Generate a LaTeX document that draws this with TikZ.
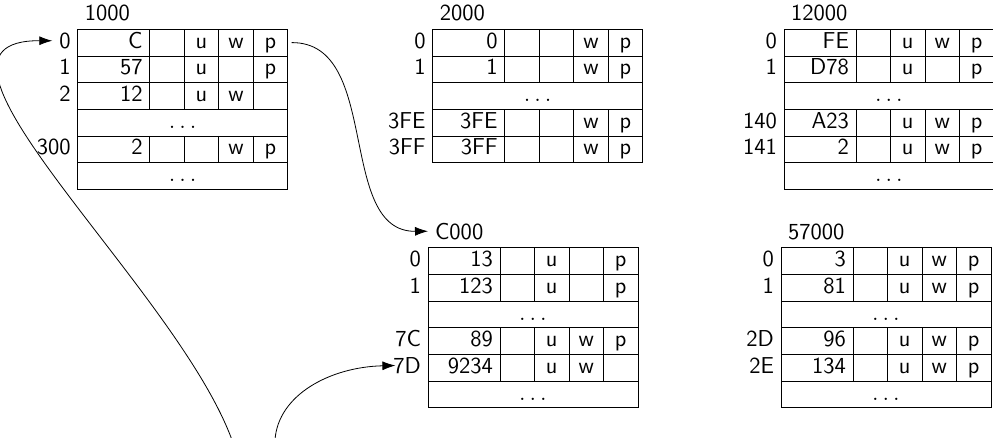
\documentclass[tikz,border=0pt]{standalone}
\usepackage{tikz}
\usetikzlibrary{arrows.meta}
\newcommand{\tabfont}{\fontsize{11.5}{13}\selectfont\sffamily}
\tikzset{
  rowbox/.style={draw, anchor=north west, minimum width=105pt, minimum height=13.333pt,
                 inner sep=0pt, outer sep=0pt},
  valtxt/.style={anchor=base east, font=\tabfont},
  flagtxt/.style={anchor=base, font=\tabfont},
  rowlbl/.style={anchor=base east, font=\tabfont},
  pgtitle/.style={anchor=base west, font=\tabfont},
  ptr/.style={-{Latex[length=6.5pt,width=4.5pt]}},
}
% #1 table name, (#2,#3) top left corner, #4 rows k/label/value/u/w/p, #5 rows with dots
\newcommand{\pagetable}[5]{%
  \node[pgtitle] (#1-title) at (#2,#3) [yshift=4.3pt] {#1};
  \foreach \rk/\rl/\rv/\fu/\fw/\fp in {#4} {
    \node[rowbox] (#1-r\rk) at (#2,{#3+\rk*26.667}) {};
    \foreach \dx in {72,106.5,141,175.5}
      \draw (#1-r\rk.north west) ++(\dx,0) -- ++(0,26.667);
    \path (#1-r\rk.north west) ++(72,19) node[valtxt] {\rv}
      ++(51.75,0) node[flagtxt] {\fu}
      ++(34.5,0) node[flagtxt] {\fw}
      ++(34.5,0) node[flagtxt] {\fp};
    \node[rowlbl] (#1-l\rl) at (#2,{#3+\rk*26.667+19}) {\rl};
  }
  \foreach \rk in {#5} {
    \node[rowbox] (#1-r\rk) at (#2,{#3+\rk*26.667}) {};
    \path (#1-r\rk.north) ++(0,19) node[flagtxt] {$\ldots$};
  }
}

\begin{document}
\begin{tikzpicture}[x=0.5pt, y=-0.5pt]
  \useasboundingbox (0,0) rectangle (993,438);

  % page tables
  \pagetable{1000}{77.7}{29.3}{0/0/C/u/w/p, 1/1/57/u//p, 2/2/12/u/w/, 4/300/2//w/p}{3,5}
  \pagetable{2000}{432.7}{29.3}{0/0/0//w/p, 1/1/1//w/p, 3/3FE/3FE//w/p, 4/3FF/3FF//w/p}{2}
  \pagetable{12000}{784}{29.3}{0/0/FE/u/w/p, 1/1/D78/u//p, 3/140/A23/u/w/p, 4/141/2/u/w/p}{2,5}
  \pagetable{C000}{428}{247.7}{0/0/13/u//p, 1/1/123/u//p, 3/7C/89/u/w/p, 4/7D/9234/u/w/}{2,5}
  \pagetable{57000}{781}{247.7}{0/0/3/u/w/p, 1/1/81/u/w/p, 3/2D/96/u/w/p, 4/2E/134/u/w/p}{2,5}

  % pointers
  \coordinate (src1) at (232,440);
  \coordinate (src2) at (275,440);
  \draw[ptr] (src1) .. controls (175,285) and (-110,40) .. (1000-l0.west);
  \draw[ptr] (src2) .. controls (278,395) and (330,367) .. ([xshift=4.5pt]C000-l7D.west);
  \draw[ptr, shorten <=2pt] (1000-r0.east) .. controls (382,42) and (336,232) .. (C000-title.west);
\end{tikzpicture}
\end{document}
